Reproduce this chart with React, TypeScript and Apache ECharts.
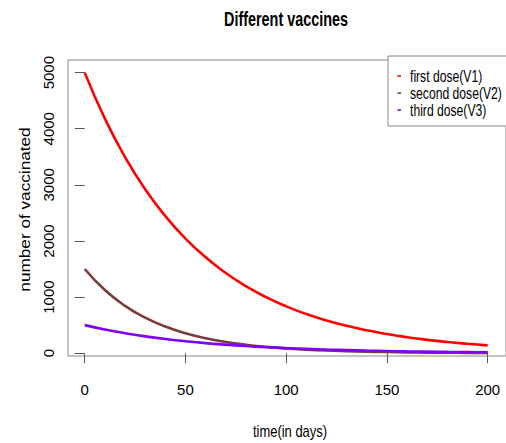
import React, { useEffect, useRef } from "react";
import * as echarts from "echarts";

const days = [0, 10, 20, 30, 40, 50, 60, 70, 80, 90, 100, 110, 120, 130, 140, 150, 160, 170, 180, 190, 200];
const firstDose = [5000, 4180, 3495, 2922, 2443, 2043, 1708, 1428, 1194, 998, 835, 698, 583, 488, 408, 341, 285, 238, 199, 167, 139];
const secondDose = [1500, 1125, 844, 633, 475, 356, 267, 200, 150, 113, 84, 63, 47, 36, 27, 20, 15, 11, 8, 6, 5];
const thirdDose = [500, 422, 356, 300, 253, 214, 180, 152, 128, 108, 91, 77, 65, 55, 46, 39, 33, 28, 23, 20, 17];
const xTicks = [0, 50, 100, 150, 200];
const yTicks = [0, 1000, 2000, 3000, 4000, 5000];
const seriesNames = ["first dose(V1)", "second dose(V2)", "third dose(V3)"];
const seriesColors = ["#FF0000", "#7A3B3B", "#7F00FF"];

const FONT = "'Liberation Sans', Arial, sans-serif";

export default function App() {
  const ref = useRef<HTMLDivElement>(null);
  useEffect(() => {
    if (!ref.current) return;
    const chart = echarts.init(ref.current, null, { renderer: "svg" });
    const pairs = (vals: number[]) => days.map((d, i) => [d, vals[i]]);
    const legendRows = [76, 93, 110];
    const legendGraphics: any[] = [];
    seriesNames.forEach((name, i) => {
      legendGraphics.push({
        type: "rect",
        z: 5,
        shape: { x: 397.5, y: legendRows[i] - 0.8, width: 3.5, height: 1.6 },
        style: { fill: seriesColors[i] },
      });
      legendGraphics.push({
        type: "text",
        z: 5,
        x: 410,
        y: legendRows[i],
        scaleX: 0.76,
        style: {
          text: name,
          fontSize: 16,
          fontFamily: FONT,
          fill: "#000000",
          align: "left",
          verticalAlign: "middle",
        },
      });
    });
    chart.setOption({
      animation: false,
      backgroundColor: "#ffffff",
      textStyle: { fontFamily: FONT },
      grid: {
        left: 68,
        right: -5,
        top: 60,
        bottom: 87,
        show: true,
        borderColor: "#888888",
        borderWidth: 1,
        backgroundColor: "transparent",
      },
      xAxis: {
        type: "value",
        min: -8.3,
        max: 209.1,
        splitLine: { show: false },
        axisLine: { show: false },
        axisTick: { show: true, customValues: xTicks, length: 10, lineStyle: { color: "#555555" } },
        axisLabel: {
          customValues: xTicks,
          margin: 26,
          fontSize: 15,
          color: "#000000",
          fontFamily: FONT,
        },
      },
      yAxis: {
        type: "value",
        min: -50,
        max: 5225,
        splitLine: { show: false },
        axisLine: { show: false },
        axisTick: { show: true, customValues: yTicks, length: 10, lineStyle: { color: "#555555" } },
        axisLabel: {
          customValues: yTicks,
          rotate: 90,
          margin: 12,
          fontSize: 15,
          color: "#000000",
          fontFamily: FONT,
          formatter: (v: number) => String(v),
        },
      },
      graphic: [
        {
          type: "rect",
          z: 4,
          shape: { x: 388, y: 56, width: 140, height: 70 },
          style: { fill: "#ffffff", stroke: "#888888", lineWidth: 1 },
        },
        ...legendGraphics,
        {
          type: "text",
          x: 286,
          y: 19,
          scaleX: 0.72,
          style: {
            text: "Different vaccines",
            fontSize: 20,
            fontWeight: "bold",
            fontFamily: FONT,
            fill: "#000000",
            align: "center",
            verticalAlign: "middle",
          },
        },
        {
          type: "text",
          x: 290,
          y: 432,
          scaleX: 0.81,
          style: {
            text: "time(in days)",
            fontSize: 16,
            fontFamily: FONT,
            fill: "#000000",
            align: "center",
            verticalAlign: "middle",
          },
        },
        {
          type: "text",
          x: 24,
          y: 209.5,
          rotation: Math.PI / 2,
          scaleY: 0.86,
          style: {
            text: "number of vaccinated",
            fontSize: 17.2,
            fontFamily: FONT,
            fill: "#000000",
            align: "center",
            verticalAlign: "middle",
          },
        },
      ],
      series: seriesNames.map((name, i) => ({
        name,
        type: "line",
        smooth: true,
        symbol: "none",
        data: pairs([firstDose, secondDose, thirdDose][i]),
        lineStyle: { width: 2.6, color: seriesColors[i] },
        itemStyle: { color: seriesColors[i] },
      })),
    });
    return () => chart.dispose();
  }, []);
  return <div ref={ref} style={{ position: "absolute", left: 0, top: 0, width: 506, height: 443 }} />;
}
